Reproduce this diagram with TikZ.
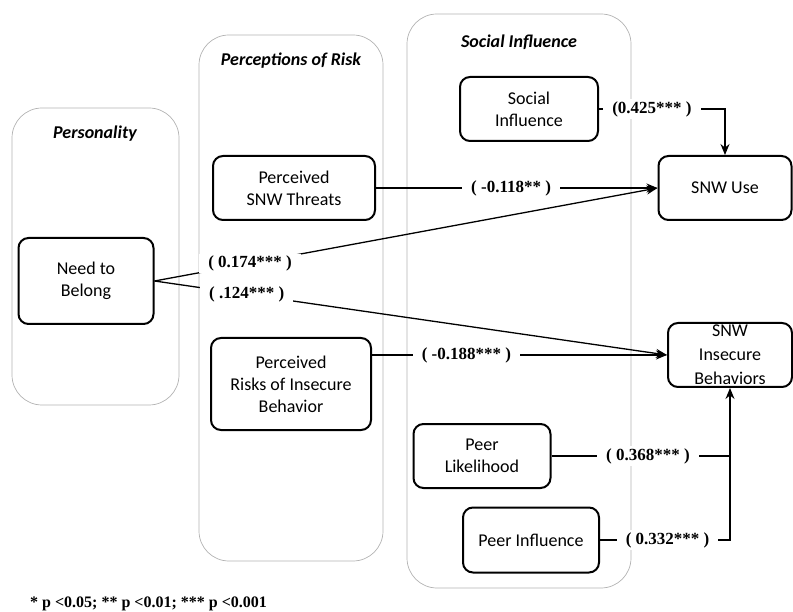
\documentclass[tikz,border=0pt]{standalone}
\usepackage{fontspec}
\setmainfont{Carlito}
\newfontfamily\coeffont{Liberation Serif}
\usetikzlibrary{arrows.meta}

\begin{document}
\begin{tikzpicture}[x=1pt, y=-1pt,
  group/.style={draw=black!30, line width=0.7pt, rounded corners=30pt},
  grouptitle/.style={font=\fontsize{18}{22}\selectfont\bfseries\itshape},
  construct/.style={draw, line width=2pt, rounded corners=10pt, align=center,
    inner sep=0pt, font=\fontsize{18}{22}\selectfont},
  link/.style={line width=1.3pt, -{Stealth[length=11pt, width=9pt]}},
  coef/.style={fill=white, inner xsep=9pt, inner ysep=2pt,
    font=\coeffont\fontsize{17}{20}\selectfont\bfseries}]
  \useasboundingbox (0,0) rectangle (793,612);

  \node[group, minimum width=167pt, minimum height=297pt] (personality) at (95.5,256.5) {};
  \node[group, minimum width=184pt, minimum height=526pt] (perceptions) at (291,298) {};
  \node[group, minimum width=224pt, minimum height=574pt] (social) at (519,301) {};
  \node[grouptitle] (personalitytitle) at (95,134) {Personality};
  \node[grouptitle] (perceptionstitle) at (291,61) {Perceptions of Risk};
  \node[grouptitle] (socialtitle) at (519,42) {Social Influence};

  \node[construct, minimum width=135pt, minimum height=86pt] (belong) at (86,281) {Need to\\Belong};
  \node[construct, minimum width=162pt, minimum height=64pt] (threats) at (294,188) {Perceived\\SNW Threats};
  \node[construct, minimum width=160pt, minimum height=92pt] (risks) at (291,384) {Perceived\\Risks of Insecure\\Behavior};
  \node[construct, minimum width=138pt, minimum height=64pt] (socinf) at (529,109) {Social\\Influence};
  \node[construct, minimum width=133pt, minimum height=64pt] (use) at (725,188) {SNW Use};
  \node[construct, minimum width=124pt, minimum height=64pt,
    font=\fontsize{18}{24}\selectfont] (insecure) at (730,355) {SNW\\Insecure\\Behaviors};
  \node[construct, minimum width=137pt, minimum height=64pt] (likelihood) at (482,456) {Peer\\Likelihood};
  \node[construct, minimum width=136pt, minimum height=65pt] (peerinf) at (531,540) {Peer Influence};

  \draw[link] (threats) -- node[coef, pos=0.48] {( -0.118** )} (use);
  \draw[link] (belong.east) -- node[coef, pos=0.19] {( 0.174*** )} (use.west);
  \draw[link] (belong.east) -- node[coef, pos=0.18] {( .124*** )} (insecure.west);
  \draw[link] (risks.east |- insecure.west) -- node[coef, pos=0.32] {( -0.188*** )} (insecure.west);
  \draw[link] (socinf.east) -| node[coef, pos=0.21] {(0.425*** )} (use.north);
  \draw[link] (likelihood.east) -| node[coef, pos=0.27] {( 0.368*** )} (insecure.south);
  \coordinate (join) at (insecure.south |- likelihood.east);
  \draw[line width=1.3pt] (peerinf.east) -| node[coef, pos=0.26] {( 0.332*** )} (join);

  \node[anchor=west, inner sep=0pt, font=\coeffont\fontsize{16}{19}\selectfont\bfseries]
    (note) at (30,604) {* p <0.05; ** p <0.01; *** p <0.001};
\end{tikzpicture}
\end{document}
